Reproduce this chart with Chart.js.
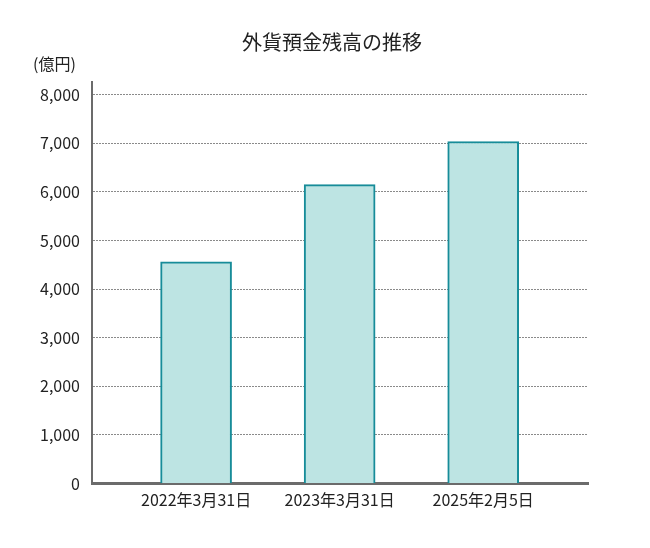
<!DOCTYPE html>
<html>
<head>
<meta charset="utf-8">
<script src="https://cdn.jsdelivr.net/npm/chart.js@4.4.1/dist/chart.umd.min.js"></script>
<style>
  html, body { margin: 0; padding: 0; background: #fff; }
  #wrap { width: 650px; height: 548px; }
</style>
</head>
<body>
<div id="wrap"><canvas id="fxdeposit"></canvas></div>
<script>
// data
var chartTitle = '外貨預金残高の推移';
var unitLabel = '(億円)';
var dateLabels = ['2022年3月31日', '2023年3月31日', '2025年2月5日'];
var balances = [4560, 6150, 7035];
var yTickValues = [0, 1000, 2000, 3000, 4000, 5000, 6000, 7000, 8000];

var fontFamily = '"Noto Sans CJK JP", "Noto Sans", sans-serif';
var textColor = '#222';

// title and unit drawn as text on top of the canvas
var headerText = {
    id: 'headerText',
    afterDraw: function (chart) {
        var ctx = chart.ctx;
        ctx.save();
        ctx.fillStyle = textColor;
        ctx.textBaseline = 'middle';
        ctx.font = '20px ' + fontFamily;
        ctx.textAlign = 'center';
        ctx.fillText(chartTitle, 332, 42);
        ctx.font = '16px ' + fontFamily;
        ctx.textAlign = 'left';
        ctx.fillText(unitLabel, 33, 64);
        ctx.restore();
    }
};

var ctxl = document.getElementById('fxdeposit');
var myBarChart = new Chart(ctxl, {
    type: 'bar',
    data: {
        datasets: [{
            data: balances.map(function (v, i) { return { x: i, y: v }; }),
            backgroundColor: '#bde4e3',
            borderColor: '#178c99',
            borderWidth: 2,
            barThickness: 71
        }]
    },
    options: {
        responsive: true,
        maintainAspectRatio: false,
        animation: false,
        layout: { padding: { top: 82, right: 62, bottom: 0, left: 0 } },
        plugins: {
            legend: { display: false },
            title: { display: false },
            tooltip: { enabled: false }
        },
        scales: {
            x: {
                type: 'linear',
                offset: false,
                min: -0.725,
                max: 2.73,
                afterBuildTicks: function (scale) {
                    scale.ticks = dateLabels.map(function (_, i) { return { value: i }; });
                },
                afterFit: function (scale) { scale.height = 64.5; },
                grid: { display: false, drawTicks: false, offset: false },
                border: { display: true, color: '#6b6b6b', width: 3 },
                ticks: {
                    autoSkip: false,
                    maxRotation: 0,
                    padding: 7,
                    color: textColor,
                    font: { family: fontFamily, size: 16 },
                    callback: function (value) { return dateLabels[value]; }
                }
            },
            y: {
                min: 0,
                max: 8260,
                afterBuildTicks: function (scale) {
                    scale.ticks = yTickValues.map(function (v) { return { value: v }; });
                },
                afterFit: function (scale) { scale.width = 92; },
                grid: { color: '#8a8a8a', lineWidth: 1, drawTicks: false },
                border: { display: true, color: '#6b6b6b', width: 2, dash: [2, 1] },
                ticks: {
                    padding: 12,
                    color: textColor,
                    font: { family: fontFamily, size: 16 },
                    callback: function (value) { return value.toLocaleString('en-US'); }
                }
            }
        }
    },
    plugins: [headerText]
});
</script>
</body>
</html>
